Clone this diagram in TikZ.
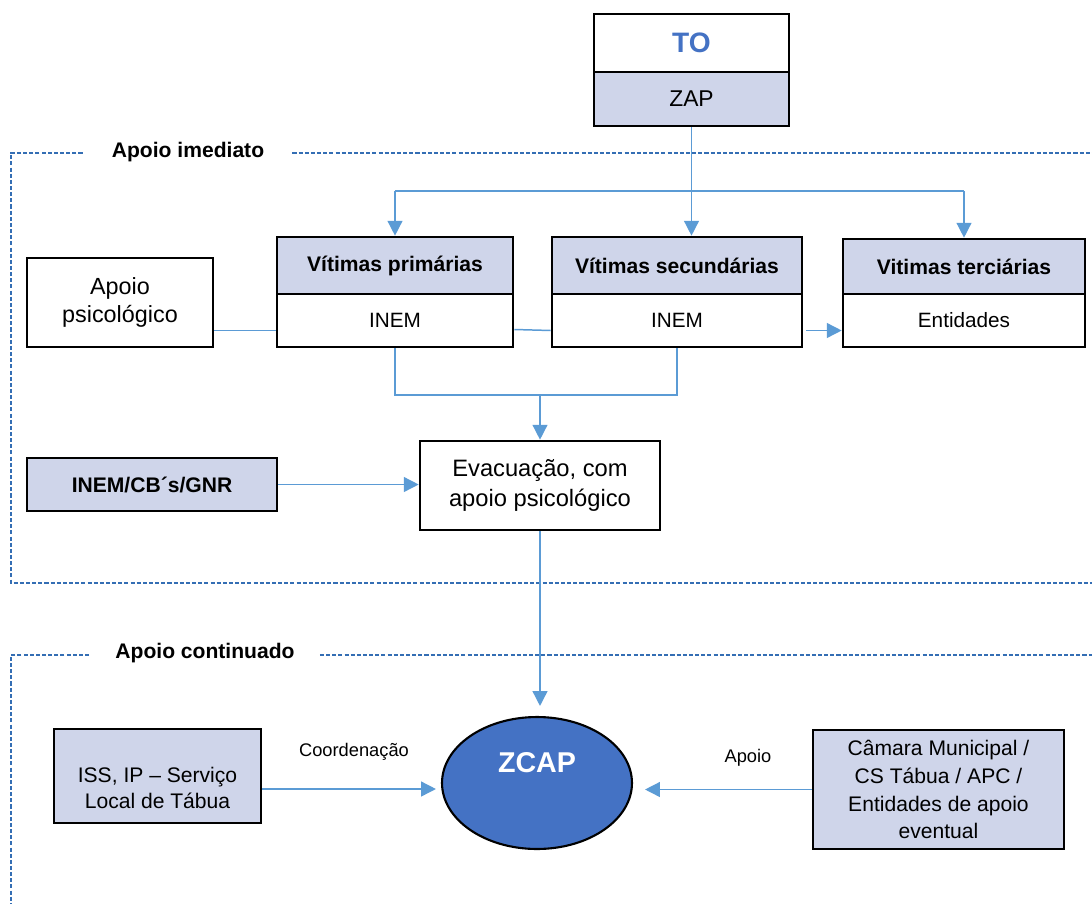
\documentclass[tikz,border=0pt]{standalone}
\usepackage{fontspec}
\setmainfont{Liberation Sans}
\usetikzlibrary{arrows.meta,calc,shapes.geometric}
\definecolor{lav}{RGB}{207,213,234}
\definecolor{connc}{RGB}{91,155,213}
\definecolor{framec}{RGB}{52,110,180}
\definecolor{toblue}{RGB}{68,114,196}
\begin{document}
\begin{tikzpicture}[x=0.02cm,y=-0.02cm,
  box/.style={draw=black, line width=1.5pt, inner sep=0pt, align=center, fill=white},
  lavbox/.style={box, fill=lav},
  conn/.style={draw=connc, line width=0.85pt},
  arr/.style={conn, -{Triangle[length=8.5pt,width=8.5pt]}},
  frameline/.style={draw=framec, line width=0.6pt, dash pattern=on 2.3pt off 1.2pt},
  framelabel/.style={font=\bfseries\fontsize{12}{14}\selectfont, inner sep=0pt},
  hdr/.style={font=\bfseries\fontsize{12}{14}\selectfont},
  bodytxt/.style={font=\fontsize{11.8}{14}\selectfont},
  smalllab/.style={font=\fontsize{10.4}{12}\selectfont, inner sep=0pt}
]
\useasboundingbox (0,0) rectangle (1092,903);

% frames
\node[framelabel] (lab1) at (188,152) {Apoio imediato};
\draw[frameline] ($(lab1.west)+(-29,1)$) -- (11,153) -- (11,583) -- (1092,583);
\draw[frameline] ($(lab1.east)+(28,1)$) -- (1092,153);
\node[framelabel] (lab2) at (205,653) {Apoio continuado};
\draw[frameline] ($(lab2.west)+(-26,2)$) -- (11,655) -- (11,903);
\draw[frameline] ($(lab2.east)+(25,2)$) -- (1092,655);

% top
\node[box, minimum width=3.9cm, minimum height=1.16cm, font=\bfseries\fontsize{16}{19}\selectfont, text=toblue] (to) at (691.5,43) {TO};
\node[lavbox, minimum width=3.9cm, minimum height=1.08cm, font=\fontsize{13}{15}\selectfont] (zap) at (691.5,99) {ZAP};

% victims
\node[lavbox, hdr, minimum width=4.72cm, minimum height=1.14cm] (primh) at (395,265.5) {Vítimas primárias};
\node[box, bodytxt, minimum width=4.72cm, minimum height=1.06cm] (primb) at (395,320.5) {INEM};
\node[lavbox, hdr, minimum width=5.0cm, minimum height=1.14cm] (sech) at (677,265.5) {Vítimas secundárias};
\node[box, bodytxt, minimum width=5.0cm, minimum height=1.06cm] (secb) at (677,320.5) {INEM};
\node[lavbox, hdr, minimum width=4.84cm, minimum height=1.10cm] (terh) at (964,266.5) {Vitimas terciárias};
\node[box, bodytxt, minimum width=4.84cm, minimum height=1.06cm] (terb) at (964,320.5) {Entidades};

\node[box, minimum width=3.72cm, minimum height=1.78cm, font=\fontsize{13.3}{15.9}\selectfont] (apsi) at (120,302.5) {Apoio\\psicológico};

\node[lavbox, hdr, minimum width=5.0cm, minimum height=1.06cm] (inem) at (152,484.5) {INEM/CB´s/GNR};
\node[box, minimum width=4.8cm, minimum height=1.78cm, font=\fontsize{13.5}{17}\selectfont] (evac) at (540,485.5) {Evacuação, com\\apoio psicológico};

% bottom
\node[draw=black, line width=1.2pt, fill=toblue, ellipse, inner sep=0pt, minimum width=3.8cm, minimum height=2.64cm] (zcap) at (537,783) {};
\node[font=\bfseries\fontsize{16.3}{19}\selectfont, text=white, inner sep=0pt] (zcaptxt) at (537,763) {ZCAP};

\node[lavbox, minimum width=4.14cm, minimum height=1.88cm] (iss) at (157.5,776) {};
\node[font=\fontsize{12}{15}\selectfont, align=center, inner sep=0pt] (isstxt) at (157.5,788) {ISS, IP – Serviço\\Local de Tábua};
\node[lavbox, minimum width=5.02cm, minimum height=2.38cm, font=\fontsize{12}{15.9}\selectfont] (cam) at (938.5,789.5) {Câmara Municipal /\\CS Tábua / APC /\\Entidades de apoio\\eventual};

\node[smalllab] (coord) at (354,752) {Coordenação};
\node[smalllab] (apoio) at (748,758) {Apoio};

% connectors
\coordinate (split) at (691.5,191);
\draw[arr] (zap.south) -- (zap.south |- sech.north);
\draw[conn] (primh.north |- split) -- (terh.north |- split);
\draw[arr] (primh.north |- split) -- (primh.north);
\draw[arr] (terh.north |- split) -- (terh.north);

\draw[conn] (apsi.east |- {$(primb.west)+(0,10)$}) -- ($(primb.west)+(0,10)$);
\draw[conn] ($(primb.east)+(0,9)$) -- ($(secb.west)+(0,10)$);
\draw[arr] ($(secb.east)+(3,10)$) -- ($(terb.west)+(0,10)$);

\coordinate (merge) at (540,395);
\draw[conn] (primb.south) |- (secb.south |- merge) -- (secb.south);
\draw[arr] (merge) -- (evac.north);

\draw[arr] (inem.east) -- (evac.west |- inem.east);
\draw[arr, shorten >=0.2cm] (evac.south) -- (evac.south |- zcap.north);

\coordinate (issout) at ($(iss.east)+(0,13)$);
\draw[arr, shorten >=0.1cm] (issout) -- (zcap.west |- issout);
\draw[arr, shorten >=0.24cm] (cam.west) -- (zcap.east |- cam.west);
\end{tikzpicture}
\end{document}
